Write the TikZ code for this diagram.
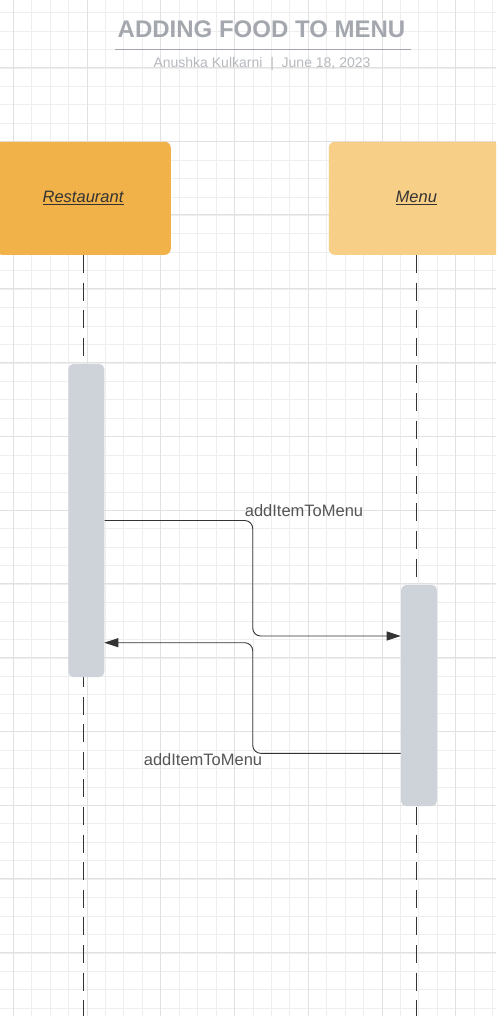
\documentclass[tikz,border=0pt]{standalone}
\usepackage{fontspec}
\setmainfont{Liberation Sans}
\usetikzlibrary{arrows.meta}
\definecolor{restorange}{HTML}{F2B24A}
\definecolor{menuorange}{HTML}{F8CF87}
\definecolor{actgray}{HTML}{CED3D9}
\definecolor{inkgray}{HTML}{333333}
\definecolor{labelgray}{HTML}{555555}
\definecolor{titlegray}{HTML}{A4A8AE}
\definecolor{subgray}{HTML}{B6B9BE}
\definecolor{minorline}{HTML}{EEEEEE}
\definecolor{majorline}{HTML}{E1E1E1}

\tikzset{
  gridminor/.style={draw=minorline, line width=1pt},
  gridmajor/.style={draw=majorline, line width=1pt},
  actor/.style={rectangle, rounded corners=6pt, minimum width=175pt, minimum height=113pt,
    inner sep=0pt, text=inkgray, font=\fontsize{16.5}{19}\selectfont},
  activation/.style={rectangle, rounded corners=5pt, fill=actgray, minimum width=36pt, inner sep=0pt},
  lifeline/.style={draw=inkgray, line width=1pt, dash pattern=on 18pt off 9.6pt},
  msg/.style={draw=inkgray, line width=0.9pt, rounded corners=8pt},
  msglabel/.style={text=labelgray, inner sep=0pt, font=\fontsize{16.5}{19}\selectfont}
}

\begin{document}
\begin{tikzpicture}[x=1pt,y=-1pt]
\useasboundingbox (0,0) rectangle (496,1016);
\clip (0,0) rectangle (496,1016);
\fill[white] (0,0) rectangle (496,1016);
% grid
\foreach \i in {0,...,28} \draw[gridminor] ({-5.1+18.4375*\i},0) -- ++(0,1016);
\foreach \i in {0,...,56} \draw[gridminor] (0,{-5.7+18.4375*\i}) -- ++(496,0);
\foreach \i in {0,...,6} \draw[gridmajor] ({13.3+73.75*\i},0) -- ++(0,1016);
\foreach \i in {0,...,13} \draw[gridmajor] (0,{67.5+73.75*\i}) -- ++(496,0);

% title
\node[text=titlegray, inner sep=0pt, font=\bfseries\fontsize{24}{28}\selectfont] (title) at (261.5,29.5) {ADDING FOOD TO MENU};
\draw[draw=titlegray, line width=1.5pt] (115,49.3) -- (411,49.3);
\node[text=subgray, inner sep=0pt, font=\fontsize{14}{17}\selectfont] (subtitle) at (262,63.5) {Anushka Kulkarni\ \ |\ \ June 18, 2023};

% actors
\node[actor, fill=restorange] (rest) at (83.3,198.3) {\underline{\textit{Restaurant}}};
\node[actor, fill=menuorange] (menu) at (416.3,198.3) {\underline{\textit{Menu}}};
\coordinate (restend) at (83.3,1016);
\coordinate (menuend) at (416.3,1016);
\draw[lifeline] (rest.south) -- (restend);
\draw[lifeline] (menu.south) -- (menuend);

% activations
\node[activation, minimum height=313pt] (ra) at (86.3,520.5) {};
\node[activation, minimum height=221pt] (ma) at (419,695.5) {};

% messages
\coordinate (reqmid) at (252.7,578);
\coordinate (reqend) at (400.7,636);
\coordinate (retstart) at (400.7,753.3);
\coordinate (retmid) at (252.7,700);
\coordinate (retend) at (104.3,642.7);
\draw[msg, -{Triangle[length=14pt,width=9pt]}] (ra.east) -| (reqmid) |- (reqend);
\draw[msg, -{Triangle[length=14pt,width=9pt]}] (retstart) -| (retmid) |- (retend);
\node[msglabel] (reqlabel) at (304,511) {addItemToMenu};
\node[msglabel] (retlabel) at (203,760) {addItemToMenu};
\end{tikzpicture}
\end{document}
